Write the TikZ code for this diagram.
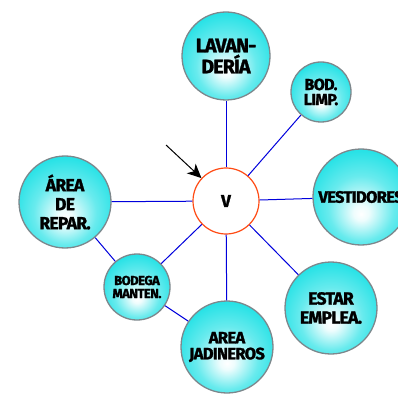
\documentclass[tikz,border=0pt]{standalone}
\usepackage{fontspec}
\setmainfont{Fira Sans}
\newfontfamily\labfont{Fira Sans}[LetterSpace=-4.0, BoldFeatures={FakeBold=1.5}]
\usetikzlibrary{arrows.meta}
\definecolor{ballcyan}{RGB}{40,226,230}
\definecolor{ballrim}{RGB}{125,135,140}
\definecolor{linkblue}{RGB}{0,0,220}
\definecolor{hubred}{RGB}{255,75,20}
\pgfdeclareradialshading{ballshade}{\pgfpoint{0bp}{-9bp}}{color(0bp)=(white); color(4bp)=(ballcyan!8!white); color(17bp)=(ballcyan!70!white); color(28bp)=(ballcyan); color(50bp)=(ballcyan)}
\tikzset{
  ball/.style={circle, draw=ballrim, line width=1.3pt, shading=ballshade, inner sep=0pt, minimum size=#1, align=center, text=black},
  hub/.style={circle, draw=hubred, line width=1.2pt, fill=white, inner sep=0pt, minimum size=66pt, font=\labfont\bfseries\fontsize{17}{18}\selectfont},
  link/.style={draw=linkblue, line width=1pt},
  pointer/.style={draw=black, line width=1pt, -{Stealth[length=14pt,width=13pt,inset=4pt]}}
}
\begin{document}
\begin{tikzpicture}[x=1pt,y=-1pt]
\useasboundingbox (0,0) rectangle (398,395);
\clip (0,0) rectangle (398,395);
\node[hub] (V) at (226,201) {V};
\node[ball=88pt, font=\labfont\bfseries\fontsize{19.5}{21}\selectfont] (lav) at (226,56) {LAVAN-\\DERÍA};
\node[ball=60pt, font=\labfont\bfseries\fontsize{16}{15}\selectfont] (bod) at (321,92) {BOD.\\LIMP.};
\node[ball=96pt, font=\labfont\bfseries\fontsize{16.5}{17}\selectfont] (ves) at (361,197) {VESTIDORES};
\node[ball=92pt, font=\labfont\bfseries\fontsize{17.5}{19}\selectfont] (rep) at (65,202) {ÁREA\\DE\\REPAR.};
\node[ball=66pt, font=\labfont\bfseries\fontsize{13}{13}\selectfont] (man) at (137,287) {BODEGA\\MANTEN.};
\node[ball=92pt, font=\labfont\bfseries\fontsize{16.5}{16}\selectfont] (jad) at (227,347) {AREA\\JADINEROS};
\node[ball=92pt, font=\labfont\bfseries\fontsize{17.5}{19}\selectfont] (est) at (331,308) {ESTAR\\EMPLEA.};
\coordinate (arrowtail) at (166,145);
\draw[link] (V) -- (lav);
\draw[link] (V) -- (bod);
\draw[link] (V) -- (ves);
\draw[link] (V) -- (rep);
\draw[link] (V) -- (man);
\draw[link] (V) -- (jad);
\draw[link] (V) -- (est);
\draw[link] (rep) -- (man);
\draw[link] (man) -- (jad);
\draw[pointer] (arrowtail) -- (V);
\end{tikzpicture}
\end{document}
